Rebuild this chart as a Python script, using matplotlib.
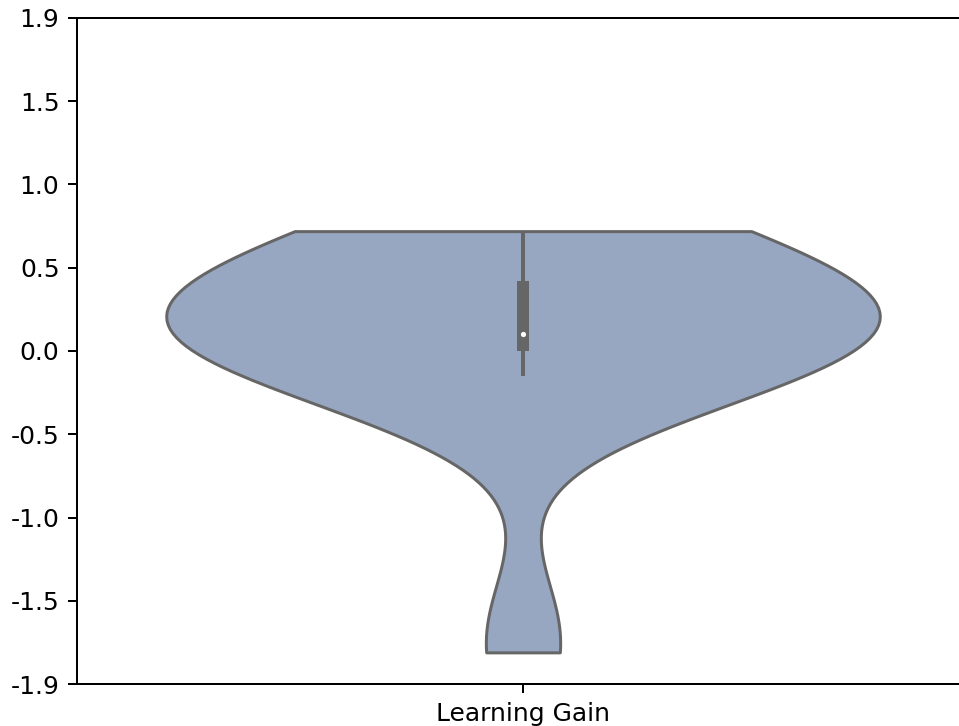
import numpy as np
import pandas as pd
import matplotlib
matplotlib.use("Agg")
import matplotlib.pyplot as plt
import seaborn as sns

# Learning gain scores (one value per participant)
learning_gain = [
    -1.81, -1.70, -0.15, -0.12, -0.11, -0.10, 0.00, 0.00, 0.01, 0.01,
    0.01, 0.02, 0.09, 0.11, 0.11, 0.39, 0.39, 0.39, 0.39, 0.43,
    0.60, 0.61, 0.62, 0.62, 0.63, 0.72,
]
category = "Learning Gain"
ytick_values = [-2.0, -1.5, -1.0, -0.5, 0.0, 0.5, 1.0, 1.5, 2.0]
ytick_labels = ["-1.9", "-1.5", "-1.0", "-0.5", "0.0", "0.5", "1.0", "1.5", "1.9"]

fill_color = "#97a7c1"
line_color = "#666666"

df = pd.DataFrame({category: learning_gain})

DPI = 180
fig = plt.figure(figsize=(959 / DPI, 726 / DPI), dpi=DPI)
ax = fig.add_axes([77 / 959, 42 / 726, 892 / 959, 666 / 726])

sns.violinplot(
    data=df, ax=ax, cut=0, bw_adjust=1.277, inner=None, width=0.8,
    color=fill_color, linecolor=line_color, linewidth=1.2, saturation=1,
)

# Inner box: whiskers, interquartile box and median dot
vals = np.asarray(learning_gain)
q1, med, q3 = np.percentile(vals, [25, 50, 75])
iqr = q3 - q1
whis_lo = vals[vals >= q1 - 1.5 * iqr].min()
whis_hi = vals[vals <= q3 + 1.5 * iqr].max()
ax.plot([0, 0], [whis_lo, whis_hi], color=line_color, lw=1.6,
        solid_capstyle="butt", zorder=3)
ax.plot([0, 0], [q1, q3], color=line_color, lw=4.8,
        solid_capstyle="butt", zorder=4)
ax.plot([0], [med], marker="o", ms=2.1, color="white", mec="none", zorder=5)

ax.set_xlim(-0.5, 0.5)
ax.set_ylim(-2.0, 2.0)
ax.set_yticks(ytick_values)
ax.set_yticklabels(ytick_labels)
ax.set_xlabel("")
ax.set_ylabel("")
for side in ["left", "right", "top", "bottom"]:
    ax.spines[side].set_visible(True)
    ax.spines[side].set_color("black")

fig.savefig("out.png", dpi=DPI)
